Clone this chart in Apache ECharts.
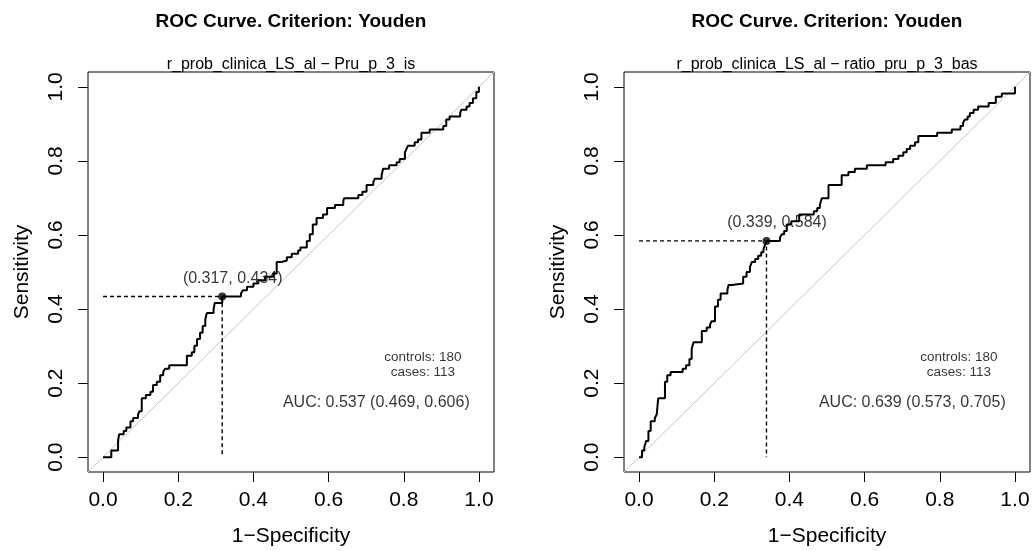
<!DOCTYPE html>
<html>
<head>
<meta charset="utf-8">
<script src="https://cdn.jsdelivr.net/npm/echarts@6/dist/echarts.min.js"></script>
<style>
  html, body { margin: 0; padding: 0; background: #ffffff; }
  #chart { width: 1035px; height: 551px; }
</style>
</head>
<body>
<div id="chart"></div>
<script>
// ---- data -------------------------------------------------------------
const mainTitle = 'ROC Curve. Criterion: Youden';
const subTitles = [
  'r_prob_clinica_LS_al \u2212 Pru_p_3_is',
  'r_prob_clinica_LS_al \u2212 ratio_pru_p_3_bas'
];
const xAxisName = '1\u2212Specificity';
const yAxisName = 'Sensitivity';
const tickValues = [0, 0.2, 0.4, 0.6, 0.8, 1.0];
const tickLabels = ['0.0', '0.2', '0.4', '0.6', '0.8', '1.0'];

// ROC vertices [1-specificity, sensitivity]; each step runs across, then up
const rocPru = [
  [0, 0], [0.022, 0.018], [0.040, 0.045], [0.043, 0.062], [0.055, 0.071],
  [0.062, 0.080], [0.073, 0.097], [0.080, 0.106], [0.093, 0.115], [0.097, 0.124],
  [0.103, 0.159], [0.114, 0.168], [0.126, 0.177], [0.133, 0.195], [0.143, 0.204],
  [0.152, 0.221], [0.160, 0.230], [0.165, 0.239], [0.176, 0.248], [0.223, 0.274],
  [0.236, 0.283], [0.243, 0.301], [0.250, 0.319], [0.258, 0.336], [0.265, 0.354],
  [0.272, 0.372], [0.276, 0.389], [0.294, 0.398], [0.297, 0.416], [0.317, 0.434],
  [0.367, 0.442], [0.372, 0.451], [0.383, 0.460], [0.400, 0.469], [0.413, 0.478],
  [0.431, 0.487], [0.453, 0.496], [0.462, 0.527], [0.475, 0.531], [0.489, 0.540],
  [0.502, 0.549], [0.519, 0.558], [0.525, 0.566], [0.542, 0.584], [0.550, 0.602],
  [0.558, 0.628], [0.568, 0.646], [0.585, 0.655], [0.596, 0.673], [0.617, 0.681],
  [0.639, 0.690], [0.641, 0.699], [0.679, 0.708], [0.690, 0.717], [0.701, 0.735],
  [0.719, 0.743], [0.723, 0.752], [0.741, 0.761], [0.745, 0.779], [0.761, 0.788],
  [0.781, 0.796], [0.789, 0.805], [0.803, 0.823], [0.807, 0.832], [0.811, 0.841],
  [0.829, 0.850], [0.838, 0.858], [0.847, 0.876], [0.869, 0.885], [0.905, 0.894],
  [0.913, 0.912], [0.922, 0.920], [0.950, 0.929], [0.953, 0.938], [0.967, 0.947],
  [0.975, 0.956], [0.984, 0.969], [0.993, 0.986], [1.0, 1.0]
];
const rocRatio = [
  [0, 0], [0.008, 0.018], [0.014, 0.027], [0.019, 0.044], [0.025, 0.071],
  [0.031, 0.097], [0.042, 0.106], [0.047, 0.115], [0.051, 0.159], [0.069, 0.204],
  [0.075, 0.221], [0.084, 0.230], [0.116, 0.239], [0.125, 0.248], [0.134, 0.265],
  [0.140, 0.292], [0.145, 0.310], [0.167, 0.341], [0.180, 0.350], [0.189, 0.358],
  [0.193, 0.367], [0.202, 0.407], [0.210, 0.425], [0.217, 0.442], [0.235, 0.451],
  [0.238, 0.465], [0.247, 0.469], [0.277, 0.487], [0.286, 0.500], [0.295, 0.513],
  [0.300, 0.527], [0.309, 0.535], [0.317, 0.544], [0.325, 0.553], [0.331, 0.562],
  [0.336, 0.575], [0.339, 0.584], [0.375, 0.593], [0.380, 0.602], [0.386, 0.611],
  [0.393, 0.628], [0.405, 0.637], [0.426, 0.655], [0.465, 0.664], [0.474, 0.673],
  [0.481, 0.681], [0.486, 0.699], [0.504, 0.735], [0.539, 0.761], [0.557, 0.770],
  [0.574, 0.779], [0.606, 0.788], [0.656, 0.796], [0.676, 0.805], [0.690, 0.814],
  [0.703, 0.823], [0.712, 0.832], [0.721, 0.841], [0.734, 0.850], [0.743, 0.867],
  [0.793, 0.876], [0.832, 0.885], [0.855, 0.894], [0.862, 0.903], [0.867, 0.912],
  [0.874, 0.920], [0.880, 0.929], [0.890, 0.938], [0.902, 0.947], [0.930, 0.956],
  [0.949, 0.973], [0.965, 0.982], [1.0, 1.0]
];

// Youden optimum [1-specificity, sensitivity]
const youdenPru = [0.317, 0.434];
const youdenRatio = [0.339, 0.584];
// AUC with confidence interval [auc, lower, upper]
const aucPru = [0.537, 0.469, 0.606];
const aucRatio = [0.639, 0.573, 0.705];
const nControls = [180, 180];
const nCases = [113, 113];
// chance diagonal, spanning the whole plotting range
const chanceLine = [[-0.04, -0.04], [1.04, 1.04]];

// ---- layout -------------------------------------------------------------
const FONT = '"Liberation Sans", Arial, Helvetica, sans-serif';
const panels = [
  { left: 88, roc: rocPru, youden: youdenPru, auc: aucPru, sub: subTitles[0] },
  { left: 624, roc: rocRatio, youden: youdenRatio, auc: aucRatio, sub: subTitles[1] }
];
const GRID_TOP = 72, GRID_W = 406, GRID_H = 400;
// text anchors in axis units
const notePos = { counts: [0.851, 0.270], cases: [0.851, 0.228], auc: [0.727, 0.147] };

const fmt3 = v => v.toFixed(3);

const option = {
  backgroundColor: '#ffffff',
  animation: false,
  title: [],
  grid: [],
  xAxis: [],
  yAxis: [],
  series: []
};

panels.forEach((p, i) => {
  const cx = p.left + GRID_W / 2;
  option.title.push({
    text: mainTitle, left: cx, top: 12, textAlign: 'center', padding: 0,
    textStyle: { fontFamily: FONT, fontSize: 19, fontWeight: 'bold', color: '#000' }
  });
  option.title.push({
    text: p.sub, left: cx, top: 57, textAlign: 'center', padding: 0,
    textStyle: { fontFamily: FONT, fontSize: 16, fontWeight: 'normal', color: '#000' }
  });
  option.grid.push({
    left: p.left, top: GRID_TOP, width: GRID_W, height: GRID_H,
    show: true, borderColor: '#000', borderWidth: 1, backgroundColor: 'transparent',
    containLabel: false, outerBoundsMode: 'none'
  });
  const axisCommon = {
    type: 'value', min: -0.04, max: 1.04, gridIndex: i,
    nameLocation: 'middle', nameMoveOverlap: false,
    nameTextStyle: { fontFamily: FONT, fontSize: 21, color: '#000' },
    axisLine: { show: false, onZero: false },
    splitLine: { show: false },
    axisTick: { show: true, inside: false, length: 10, customValues: tickValues,
                lineStyle: { color: '#000', width: 1 } },
    axisLabel: {
      show: true, customValues: tickValues, fontFamily: FONT, fontSize: 21, color: '#000',
      formatter: v => {
        const k = tickValues.findIndex(t => Math.abs(t - v) < 1e-9);
        return k >= 0 ? tickLabels[k] : '';
      }
    }
  };
  option.xAxis.push(Object.assign({}, axisCommon, {
    name: xAxisName, nameGap: 54,
    axisLabel: Object.assign({}, axisCommon.axisLabel, { margin: 18 })
  }));
  option.yAxis.push(Object.assign({}, axisCommon, {
    name: yAxisName, nameGap: 55,
    axisLabel: Object.assign({}, axisCommon.axisLabel, { margin: 21, rotate: 90 })
  }));

  // chance diagonal
  option.series.push({
    type: 'line', xAxisIndex: i, yAxisIndex: i, data: chanceLine,
    symbol: 'none', silent: true, z: 1,
    lineStyle: { color: '#c4c4c4', width: 1 }
  });
  // annotation texts (drawn beneath the curve)
  const ann = (pos, text, size, extra) => ({
    type: 'scatter', xAxisIndex: i, yAxisIndex: i, data: [pos],
    symbolSize: 0, silent: true, z: 1,
    label: Object.assign({
      show: true, position: 'inside', formatter: text,
      fontFamily: FONT, fontSize: size, color: '#000'
    }, extra || {})
  });
  option.series.push(ann(p.youden, '(' + fmt3(p.youden[0]) + ', ' + fmt3(p.youden[1]) + ')', 16,
    { offset: [10.5, -18] }));
  option.series.push(ann(notePos.counts, 'controls: ' + nControls[i], 13.5));
  option.series.push(ann(notePos.cases, 'cases: ' + nCases[i], 13.5));
  option.series.push(ann(notePos.auc,
    'AUC: ' + fmt3(p.auc[0]) + ' (' + fmt3(p.auc[1]) + ', ' + fmt3(p.auc[2]) + ')', 16));

  // dashed guides to the Youden point
  option.series.push({
    type: 'line', xAxisIndex: i, yAxisIndex: i, symbol: 'none', silent: true, z: 2,
    data: [[0, p.youden[1]], [p.youden[0], p.youden[1]], [p.youden[0], 0]],
    lineStyle: { color: '#000', width: 1.4, type: [4, 3] }
  });
  // ROC curve
  option.series.push({
    type: 'line', xAxisIndex: i, yAxisIndex: i, data: p.roc, step: 'end',
    symbol: 'none', silent: true, z: 3,
    lineStyle: { color: '#000', width: 2 }
  });
  // Youden point
  option.series.push({
    type: 'scatter', xAxisIndex: i, yAxisIndex: i, data: [p.youden],
    symbol: 'circle', symbolSize: 8, silent: true, z: 4,
    itemStyle: { color: '#000' }
  });
});

const chart = echarts.init(document.getElementById('chart'), null, { renderer: 'canvas' });
chart.setOption(option);
</script>
</body>
</html>
